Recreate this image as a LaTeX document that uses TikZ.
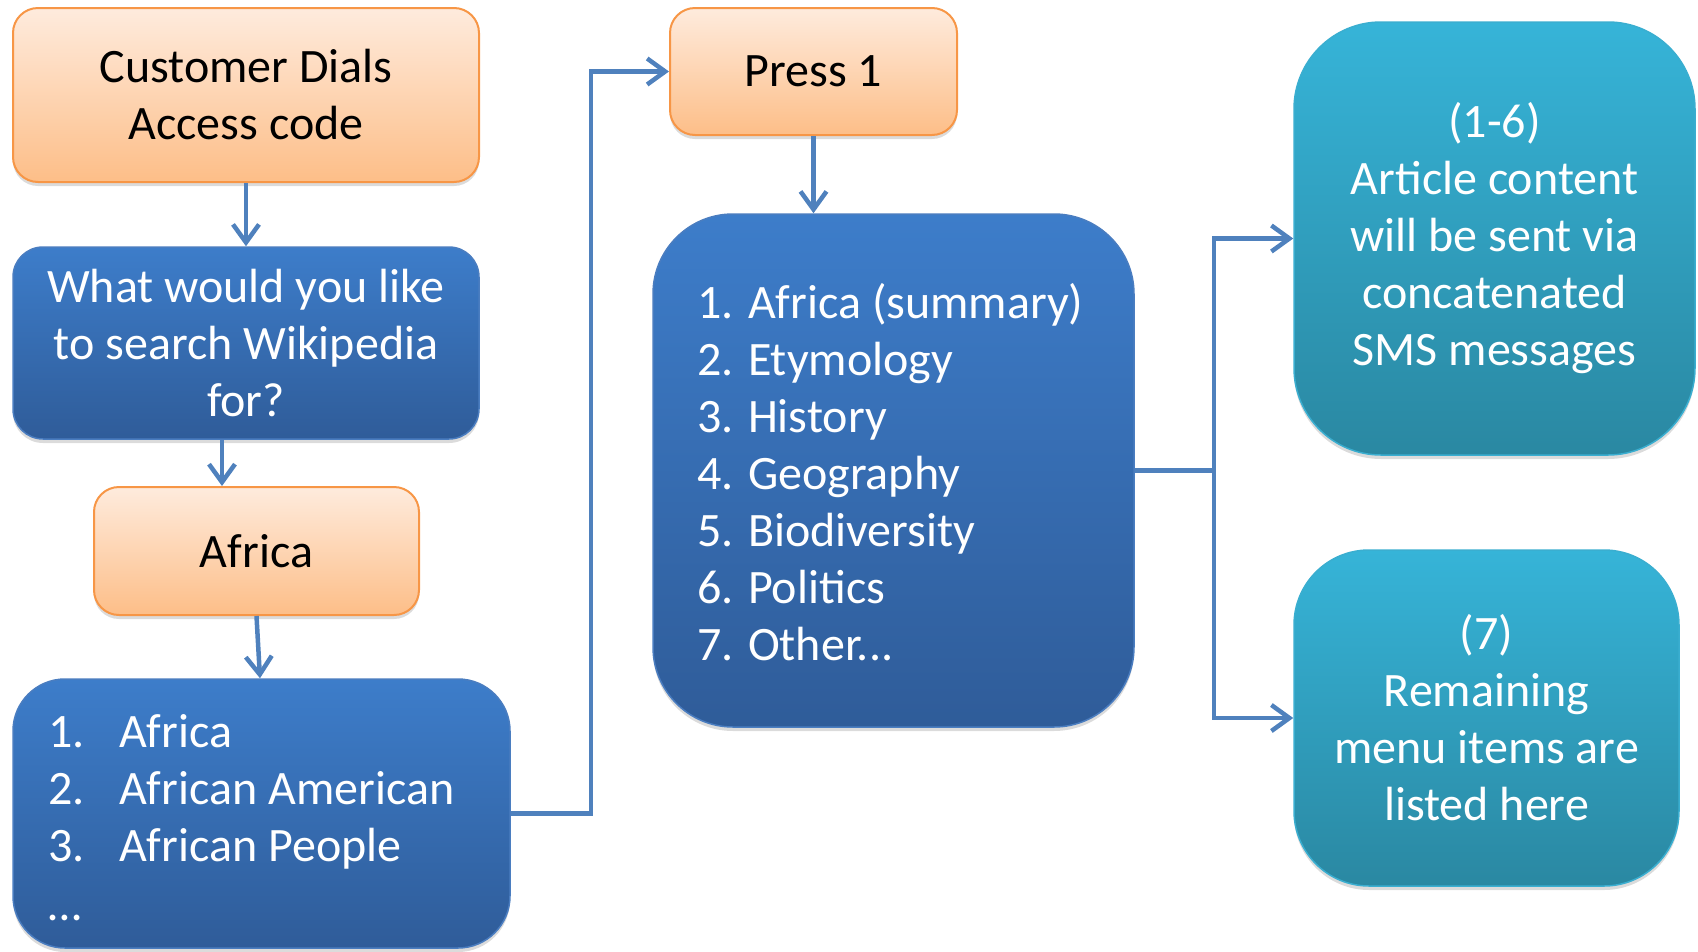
\documentclass[tikz,border=0pt]{standalone}
\usepackage{fontspec}
\setmainfont{Carlito}
\usetikzlibrary{arrows.meta,shadows,calc}
\definecolor{orTop}{HTML}{FEEBDD}
\definecolor{orBot}{HTML}{FDBE88}
\definecolor{orLine}{HTML}{F79646}
\definecolor{blTop}{HTML}{3D7DCA}
\definecolor{blBot}{HTML}{2F5C99}
\definecolor{blLine}{HTML}{4A7DC0}
\definecolor{tlTop}{HTML}{36B4D8}
\definecolor{tlBot}{HTML}{2A88A2}
\definecolor{tlLine}{HTML}{3AAED0}
\definecolor{connC}{HTML}{4F81BD}
\newcommand\bigfont{\fontsize{48pt}{57pt}\selectfont}
\begin{document}
\begin{tikzpicture}[x=1pt,y=-1pt,
  shad/.style={drop shadow={shadow xshift=0pt,shadow yshift=-4pt,opacity=.2,fill=black!70}},
  obox/.style={shad,draw=orLine,line width=2pt,top color=orTop,bottom color=orBot,
    rounded corners=25pt,font=\bigfont,text=black,align=center,inner sep=0pt},
  bbox/.style={shad,draw=blLine,line width=1.5pt,top color=blTop,bottom color=blBot,
    font=\bigfont,text=white,align=center,inner sep=0pt},
  tbox/.style={shad,draw=tlLine,line width=1.5pt,top color=tlTop,bottom color=tlBot,
    font=\bigfont,text=white,align=center,inner sep=0pt},
  wtext/.style={font=\bigfont,text=white,align=left,inner sep=0pt},
  line/.style={draw=connC,line width=4.5pt},
  arr/.style={line,-{Straight Barb[length=18pt,width=26pt]}}
]
\useasboundingbox (0,0) rectangle (1698,951);

\node[obox,minimum width=466pt,minimum height=174pt] (dial) at (246,95) {Customer Dials\\Access code};
\node[bbox,rounded corners=30pt,minimum width=466pt,minimum height=192pt] (ask) at (246,343) {What would you like\\to search Wikipedia\\for?};
\node[obox,minimum width=325pt,minimum height=128pt] (afr) at (256.5,551) {Africa};
\node[bbox,rounded corners=52pt,minimum width=497pt,minimum height=269pt] (list) at (261.5,813.5) {};
\node[wtext,anchor=west] (listt) at (48,818) {\makebox[71pt][l]{1.}Africa\\\makebox[71pt][l]{2.}African American\\\makebox[71pt][l]{3.}African People\\[2pt]\ldots};

\node[obox,minimum width=287pt,minimum height=127pt] (press) at (813.5,71.5) {Press 1};
\node[bbox,rounded corners=80pt,minimum width=481pt,minimum height=513pt] (menu) at (893.5,470.5) {};
\node[wtext,anchor=west] (menut) at (697,472) {1. Africa (summary)\\2. Etymology\\3. History\\4. Geography\\5. Biodiversity\\6. Politics\\7. Other...};

\node[tbox,rounded corners=87pt,minimum width=401pt,minimum height=433pt] (sms) at (1494.5,238.5) {(1-6)\\Article content\\will be sent via\\concatenated\\SMS messages};
\node[tbox,rounded corners=75pt,minimum width=385pt,minimum height=336pt] (rest) at (1486.5,718) {(7)\\Remaining\\menu items are\\listed here};

\draw[arr] (dial.south) -- (ask.north);
\draw[arr] ([xshift=-24pt]ask.south) -- ([xshift=-34.5pt]afr.north);
\draw[arr] (afr.south) -- ([xshift=-1.5pt]list.north);
\draw[arr] (list.east) -- ++(80,0) |- (press.west);
\draw[arr] (press.south) -- (press.south |- menu.north);
\draw[line] (menu.east) -- ++(79,0) coordinate (br);
\draw[arr] (br) |- (sms.west);
\draw[arr] (br) |- (rest.west);
\end{tikzpicture}
\end{document}
